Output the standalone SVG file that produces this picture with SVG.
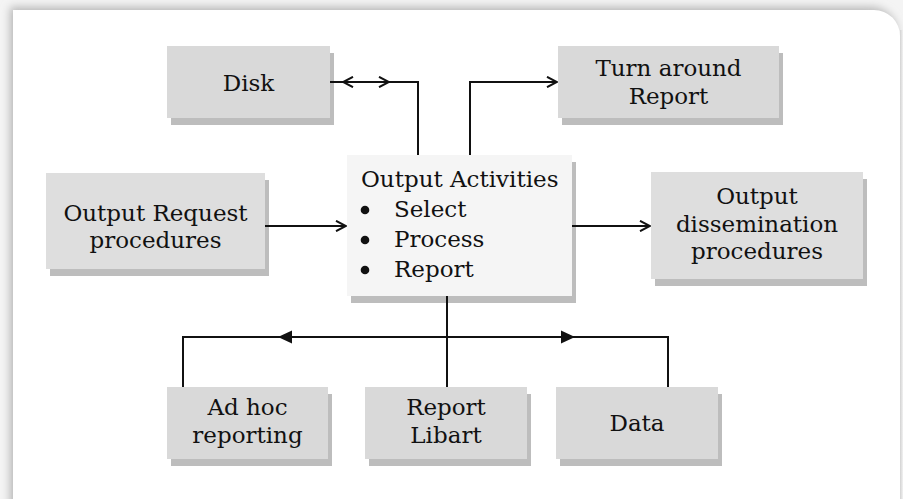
<svg xmlns="http://www.w3.org/2000/svg" width="903" height="499" viewBox="0 0 903 499">
  <style>
    .box { fill: #d9d9d9; }
    .box2 { fill: #dedede; }
    .main { fill: #f5f5f5; }
    .shadow { fill: #bdbdbd; }
    .t { font-family: "DejaVu Serif", "Liberation Serif", serif; font-size: 23px; fill: #111; }
    .c { text-anchor: middle; }
    .ln { fill: none; stroke: #111; stroke-width: 2; }
  </style>
  <defs>
    <filter id="blur" x="-5%" y="-5%" width="110%" height="110%">
      <feGaussianBlur stdDeviation="4"/>
    </filter>
    <linearGradient id="rgrad" x1="0" y1="0" x2="1" y2="0">
      <stop offset="0" stop-color="#d2d2d2"/>
      <stop offset="1" stop-color="#f2f2f2"/>
    </linearGradient>
    <marker id="open" viewBox="0 0 12 12" refX="11" refY="6" markerWidth="12" markerHeight="12" orient="auto-start-reverse" markerUnits="userSpaceOnUse">
      <path d="M1,0.8 L11,6 L1,11.2" fill="none" stroke="#111" stroke-width="2"/>
    </marker>
    <marker id="solid" viewBox="0 0 14 14" refX="14" refY="7" markerWidth="14" markerHeight="14" orient="auto-start-reverse" markerUnits="userSpaceOnUse">
      <path d="M0,0.5 L14,7 L0,13.5 Z" fill="#111"/>
    </marker>
  </defs>

  <!-- page frame -->
  <rect x="0" y="0" width="903" height="499" fill="#f4f4f4"/>
  <path d="M13,10 H874 A26,26 0 0 1 900,36 V520 H13 Z" transform="translate(-3,-3)" fill="#b8b8b8" filter="url(#blur)"/>
  <rect x="900" y="30" width="3" height="469" fill="url(#rgrad)"/>
  <path d="M13,10 H874 A26,26 0 0 1 900,36 V520 H13 Z" fill="#ffffff"/>

  <!-- nodes -->
  <g id="disk">
    <rect class="shadow" x="171" y="53" width="163" height="72"/>
    <rect class="box" x="167" y="46" width="163" height="72"/>
    <text class="t c" x="248.5" y="91">Disk</text>
  </g>
  <g id="turnaround">
    <rect class="shadow" x="562" y="53" width="221" height="72"/>
    <rect class="box" x="558" y="46" width="221" height="72"/>
    <text class="t c" x="668.5" y="75.5">Turn around</text>
    <text class="t c" x="668.5" y="103.5">Report</text>
  </g>
  <g id="output-request">
    <rect class="shadow" x="50" y="180" width="219" height="96"/>
    <rect class="box2" x="46" y="173" width="219" height="96"/>
    <text class="t c" x="155.5" y="221">Output Request</text>
    <text class="t c" x="155.5" y="248">procedures</text>
  </g>
  <g id="output-activities">
    <rect class="shadow" x="351" y="162" width="225" height="141"/>
    <rect class="main" x="347" y="155" width="225" height="141"/>
    <text class="t" x="361" y="186.5">Output Activities</text>
    <circle cx="365" cy="210" r="4.3" fill="#111"/>
    <text class="t" x="394" y="216.5">Select</text>
    <circle cx="365" cy="240" r="4.3" fill="#111"/>
    <text class="t" x="394" y="246.5">Process</text>
    <circle cx="365" cy="270" r="4.3" fill="#111"/>
    <text class="t" x="394" y="276.5">Report</text>
  </g>
  <g id="dissemination">
    <rect class="shadow" x="655" y="179" width="212" height="107"/>
    <rect class="box2" x="651" y="172" width="212" height="107"/>
    <text class="t c" x="757" y="203.5">Output</text>
    <text class="t c" x="757" y="231.5">dissemination</text>
    <text class="t c" x="757" y="258.5">procedures</text>
  </g>
  <g id="adhoc">
    <rect class="shadow" x="171" y="394" width="161" height="72"/>
    <rect class="box" x="167" y="387" width="161" height="72"/>
    <text class="t c" x="247.5" y="415">Ad hoc</text>
    <text class="t c" x="247.5" y="443">reporting</text>
  </g>
  <g id="report-libart">
    <rect class="shadow" x="369" y="394" width="162" height="72"/>
    <rect class="box" x="365" y="387" width="162" height="72"/>
    <text class="t c" x="446" y="415">Report</text>
    <text class="t c" x="446" y="443">Libart</text>
  </g>
  <g id="data">
    <rect class="shadow" x="560" y="394" width="162" height="72"/>
    <rect class="box" x="556" y="387" width="162" height="72"/>
    <text class="t c" x="637" y="431">Data</text>
  </g>

  <!-- connectors -->
  <g id="connectors">
    <path class="ln" d="M330,82 H418 V155"/>
    <path class="ln" d="M343,82 H389" marker-start="url(#open)" marker-end="url(#open)"/>
    <path class="ln" d="M470,155 V82 H557" marker-end="url(#open)"/>
    <path class="ln" d="M265,226 H346" marker-end="url(#open)"/>
    <path class="ln" d="M572,226 H650" marker-end="url(#open)"/>
    <path class="ln" d="M447,296 V387"/>
    <path class="ln" d="M183,387 V337 H668 V387"/>
    <path class="ln" d="M278,337 H575" marker-start="url(#solid)" marker-end="url(#solid)"/>
  </g>
</svg>
